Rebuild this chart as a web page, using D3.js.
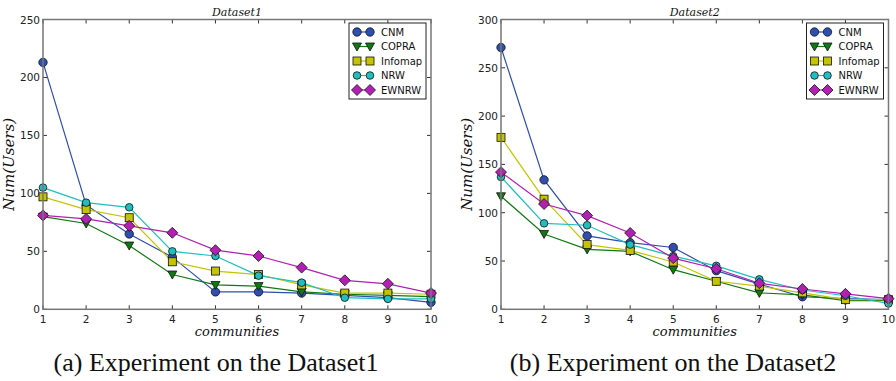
<!DOCTYPE html>
<html>
<head>
<meta charset="utf-8">
<script src="https://cdn.jsdelivr.net/npm/d3@7"></script>
<style>
  body { margin: 0; background: #fff; }
  svg { display: block; }
</style>
</head>
<body>
<svg></svg>
<script>
const width = 896;
const height = 381;

// data
const communities = [1, 2, 3, 4, 5, 6, 7, 8, 9, 10];
const methods = ['CNM', 'COPRA', 'Infomap', 'NRW', 'EWNRW'];

const d1CNM = [213, 90, 65, 45, 15, 15, 14, 12, 10, 6];
const d1COPRA = [80, 74, 55, 30, 21, 20, 15, 13, 12, 11];
const d1Infomap = [97, 86, 79, 41, 33, 30, 21, 14, 14, 13];
const d1NRW = [105, 92, 88, 50, 46, 29, 23, 10, 9, 9];
const d1EWNRW = [81, 78, 72, 66, 51, 46, 36, 25, 22, 14];

const d2CNM = [271, 134, 76, 69, 64, 40, 26, 13, 11, 10];
const d2COPRA = [117, 78, 62, 60, 41, 29, 17, 15, 9, 9];
const d2Infomap = [178, 114, 67, 61, 49, 29, 24, 17, 10, 10];
const d2NRW = [137, 89, 87, 67, 55, 45, 31, 20, 14, 6];
const d2EWNRW = [142, 109, 97, 79, 53, 42, 27, 21, 16, 11];

const yTicks1 = [0, 50, 100, 150, 200, 250];
const yTicks2 = [0, 50, 100, 150, 200, 250, 300];

const colors = {
  CNM: '#2f4fb0',
  COPRA: '#0f7a0f',
  Infomap: '#c4c400',
  NRW: '#1fbfbf',
  EWNRW: '#b21fb2'
};
const symbols = {
  CNM: 'circle',
  COPRA: 'tri',
  Infomap: 'square',
  NRW: 'circleSmall',
  EWNRW: 'diamond'
};

const panels = [
  {
    left: 43, right: 431, top: 19.5, bottom: 309.3,
    yMax: 250, yTicks: yTicks1, title: 'Dataset1',
    caption: '(a) Experiment on the Dataset1', capX: 216,
    series: [d1CNM, d1COPRA, d1Infomap, d1NRW, d1EWNRW]
  },
  {
    left: 501, right: 888.5, top: 19.5, bottom: 309.3,
    yMax: 300, yTicks: yTicks2, title: 'Dataset2',
    caption: '(b) Experiment on the Dataset2', capX: 673,
    series: [d2CNM, d2COPRA, d2Infomap, d2NRW, d2EWNRW]
  }
];

const svg = d3.select('svg').attr('width', width).attr('height', height);

function drawMarker(sel, kind, color) {
  if (kind === 'circle' || kind === 'circleSmall') {
    sel.append('circle')
      .attr('r', kind === 'circle' ? 4.2 : 3.8)
      .attr('fill', color).attr('stroke', '#111').attr('stroke-width', 0.8);
  } else if (kind === 'tri') {
    sel.append('path')
      .attr('d', 'M-4.5,-3.5L4.5,-3.5L0,4.5Z')
      .attr('fill', color).attr('stroke', '#111').attr('stroke-width', 0.8);
  } else if (kind === 'square') {
    sel.append('rect')
      .attr('x', -4).attr('y', -4).attr('width', 8).attr('height', 8)
      .attr('fill', color).attr('stroke', '#111').attr('stroke-width', 0.8);
  } else {
    sel.append('path')
      .attr('d', 'M0,-5.5L5.5,0L0,5.5L-5.5,0Z')
      .attr('fill', color).attr('stroke', '#111').attr('stroke-width', 0.8);
  }
}

panels.forEach((p) => {
  const g = svg.append('g');
  const x = d3.scaleLinear().domain([1, 10]).range([p.left, p.right]);
  const y = d3.scaleLinear().domain([0, p.yMax]).range([p.bottom, p.top]);

  // ticks (inward, all sides)
  const tk = 4;
  communities.forEach((c) => {
    g.append('line').attr('x1', x(c)).attr('x2', x(c))
      .attr('y1', p.bottom).attr('y2', p.bottom - tk).attr('stroke', '#333');
    g.append('line').attr('x1', x(c)).attr('x2', x(c))
      .attr('y1', p.top).attr('y2', p.top + tk).attr('stroke', '#333');
    g.append('text').attr('x', x(c)).attr('y', p.bottom + 14)
      .attr('text-anchor', 'middle')
      .style('font', '10.5px "DejaVu Sans"').attr('fill', '#222')
      .text(c);
  });
  p.yTicks.forEach((v) => {
    g.append('line').attr('x1', p.left).attr('x2', p.left + tk)
      .attr('y1', y(v)).attr('y2', y(v)).attr('stroke', '#333');
    g.append('line').attr('x1', p.right).attr('x2', p.right - tk)
      .attr('y1', y(v)).attr('y2', y(v)).attr('stroke', '#333');
    g.append('text').attr('x', p.left - 3).attr('y', y(v) + 4)
      .attr('text-anchor', 'end')
      .style('font', '10.5px "DejaVu Sans"').attr('fill', '#222')
      .text(v);
  });

  // lines
  const line = d3.line().x((d, i) => x(communities[i])).y((d) => y(d));
  methods.forEach((m, k) => {
    g.append('path').datum(p.series[k])
      .attr('d', line).attr('fill', 'none')
      .attr('stroke', colors[m]).attr('stroke-width', 1.2);
  });
  methods.forEach((m, k) => {
    g.append('g').selectAll('g').data(p.series[k]).enter().append('g')
      .attr('transform', (d, i) => `translate(${x(communities[i])},${y(d)})`)
      .each(function () { drawMarker(d3.select(this), symbols[m], colors[m]); });
  });

  // frame
  g.append('rect').attr('x', p.left).attr('y', p.top)
    .attr('width', p.right - p.left).attr('height', p.bottom - p.top)
    .attr('fill', 'none').attr('stroke', '#777').attr('stroke-width', 1.5);

  // legend
  const lx = p.right - 82;
  const ly = p.top + 3.5;
  const lg = g.append('g').attr('transform', `translate(${lx},${ly})`);
  lg.append('rect').attr('x', 0).attr('y', 0).attr('width', 77).attr('height', 76)
    .attr('fill', '#fff').attr('stroke', '#222').attr('stroke-width', 1);
  methods.forEach((m, k) => {
    const yy = 9 + k * 14.5;
    lg.append('line').attr('x1', 8).attr('x2', 21).attr('y1', yy).attr('y2', yy)
      .attr('stroke', colors[m]).attr('stroke-width', 1.2);
    drawMarker(lg.append('g').attr('transform', `translate(8,${yy})`), symbols[m], colors[m]);
    drawMarker(lg.append('g').attr('transform', `translate(21,${yy})`), symbols[m], colors[m]);
    lg.append('text').attr('x', 32).attr('y', yy + 3.5)
      .style('font', '10px "DejaVu Sans"').attr('fill', '#111')
      .text(m);
  });

  // titles and labels
  const cx = (p.left + p.right) / 2;
  g.append('text').attr('x', cx).attr('y', p.top - 4).attr('text-anchor', 'middle')
    .style('font', 'italic 11px "DejaVu Serif"').attr('fill', '#111').text(p.title);
  g.append('text').attr('x', cx).attr('y', p.bottom + 27).attr('text-anchor', 'middle')
    .style('font', 'italic 13px "DejaVu Serif"').attr('fill', '#111').text('communities');
  g.append('text')
    .attr('transform', `translate(${p.left - 29},${(p.top + p.bottom) / 2}) rotate(-90)`)
    .attr('text-anchor', 'middle')
    .style('font', 'italic 15px "DejaVu Serif"').attr('fill', '#111').text('Num(Users)');
  g.append('text').attr('x', p.capX).attr('y', 371).attr('text-anchor', 'middle')
    .style('font', '26px "Liberation Serif"').attr('fill', '#111').text(p.caption);
});
</script>
</body>
</html>
